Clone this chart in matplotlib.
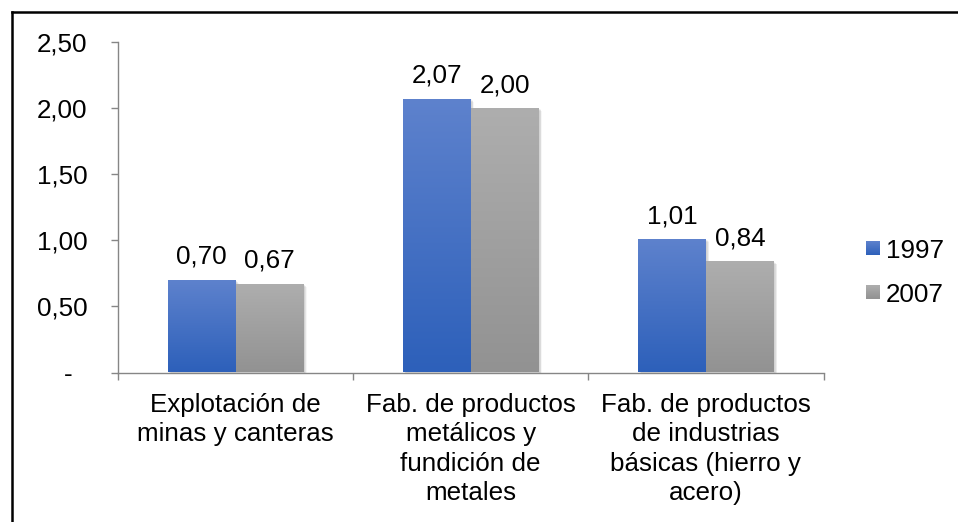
import numpy as np
import matplotlib
matplotlib.use("Agg")
import matplotlib.pyplot as plt
from matplotlib.patches import Rectangle
from matplotlib.lines import Line2D
from matplotlib.colors import LinearSegmentedColormap
from matplotlib.transforms import ScaledTranslation

plt.rcParams['font.family'] = ['Liberation Sans', 'DejaVu Sans']

categories = ["Explotación de\nminas y canteras",
              "Fab. de productos\nmetálicos y\nfundición de\nmetales",
              "Fab. de productos\nde industrias\nbásicas (hierro y\nacero)"]
series_names = ["1997", "2007"]
values_1997 = [0.70, 2.07, 1.01]
values_2007 = [0.67, 2.00, 0.84]
value_labels_1997 = ["0,70", "2,07", "1,01"]
value_labels_2007 = ["0,67", "2,00", "0,84"]
y_ticks = [0.0, 0.5, 1.0, 1.5, 2.0, 2.5]
y_tick_labels = ["-  ", "0,50", "1,00", "1,50", "2,00", "2,50"]

# gradient colours (top, bottom) per series
grad_colors = [("#5E82CD", "#2D60BA"), ("#AEAEAE", "#929292")]

FS = 18.7
W, H = 958, 522
fig = plt.figure(figsize=(W / 100, H / 100), dpi=100)
ax = fig.add_axes([118 / W, 1 - 372.5 / H, (823.5 - 118) / W, (372.5 - 42) / H])

n = len(categories)
x = np.arange(n)
bw = 68 / 235.2
offsets = [-bw / 2, bw / 2]
series = [values_1997, values_2007]
labels = [value_labels_1997, value_labels_2007]

ax.set_xlim(-0.5, n - 0.5)
ax.set_ylim(0, 2.5)

grad = np.linspace(1, 0, 256).reshape(-1, 1)
for si, (vals, labs) in enumerate(zip(series, labels)):
    cmap = LinearSegmentedColormap.from_list(f"g{si}", [grad_colors[si][1], grad_colors[si][0]])
    bars = ax.bar(x + offsets[si], vals, bw, color="none", edgecolor="none", zorder=3)
    for b, lab in zip(bars, labs):
        x0, y0 = b.get_x(), b.get_y()
        w, h = b.get_width(), b.get_height()
        # soft shadow
        for k in range(1, 6):
            sh = Rectangle((x0, y0), w, h, facecolor="black", edgecolor="none",
                           alpha=0.035, zorder=2,
                           transform=ax.transData + ScaledTranslation((1.0 + 0.4 * k) / 100, -(0.6 * k) / 100, fig.dpi_scale_trans))
            ax.add_patch(sh)
        im = ax.imshow(grad, cmap=cmap, extent=[x0, x0 + w, y0, y0 + h],
                       aspect="auto", zorder=3, interpolation="bilinear")
        im.set_clip_path(b)
        ax.annotate(lab, (x0 + w / 2, y0 + h), xytext=(0, 11.5), textcoords="offset points",
                    ha="center", va="baseline", fontsize=FS, color="black", zorder=5)

ax.set_xlim(-0.5, n - 0.5)
ax.set_ylim(0, 2.5)

for s in ["top", "right"]:
    ax.spines[s].set_visible(False)
for s in ["left", "bottom"]:
    ax.spines[s].set_color("#868686")
    ax.spines[s].set_linewidth(1.0)

ax.set_yticks(y_ticks)
ax.set_yticklabels(y_tick_labels, fontsize=FS)
ax.tick_params(axis="y", length=5.2, width=1.0, color="#868686", pad=17)

ax.set_xticks(x)
ax.set_xticklabels(categories, fontsize=FS, linespacing=1.27)
ax.tick_params(axis="x", which="major", length=0, pad=15)
ax.set_xticks(np.arange(n + 1) - 0.5, minor=True)
ax.tick_params(axis="x", which="minor", length=5.2, width=1.0, color="#868686")

# legend
for si, name in enumerate(series_names):
    yc = 248 + 44 * si
    lax = fig.add_axes([866 / W, 1 - (yc + 7) / H, 14 / W, 14 / H])
    cmap = LinearSegmentedColormap.from_list(f"l{si}", [grad_colors[si][1], grad_colors[si][0]])
    lax.imshow(grad, cmap=cmap, aspect="auto", interpolation="bilinear")
    lax.axis("off")
    fig.text(886 / W, 1 - yc / H, name, fontsize=FS, va="center_baseline", ha="left")

# outer frame
fig.add_artist(Line2D([12 / W, 12 / W], [0, 1 - 12 / H], color="black", lw=1.8, transform=fig.transFigure))
fig.add_artist(Line2D([12 / W, 1], [1 - 12 / H, 1 - 12 / H], color="black", lw=1.8, transform=fig.transFigure))

fig.savefig("out.png", dpi=100)
